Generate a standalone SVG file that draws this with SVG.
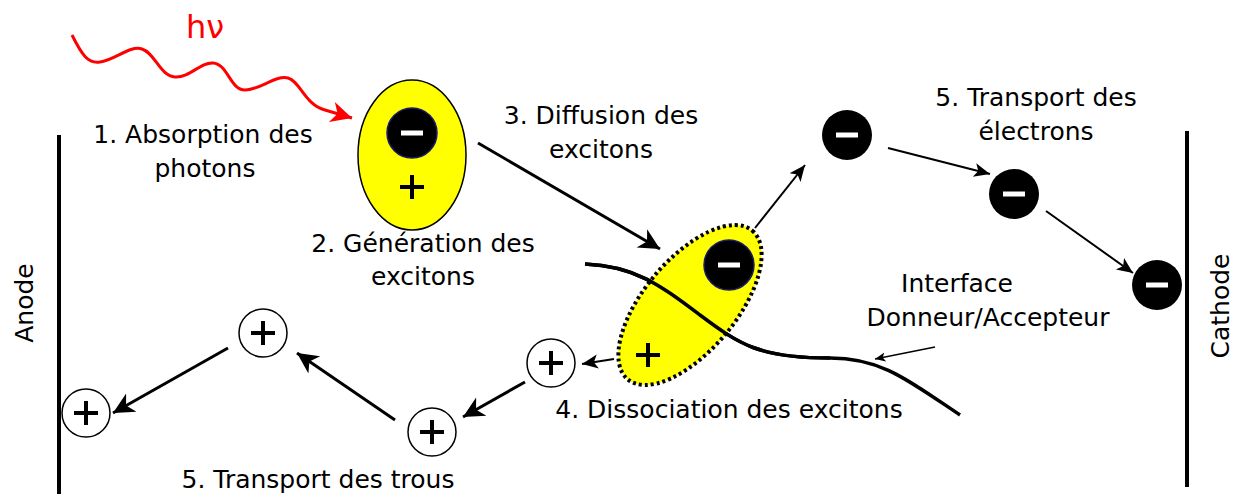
<svg xmlns="http://www.w3.org/2000/svg" width="1235" height="494" viewBox="0 0 1235 494">
<style>
.t{font-family:"Comic Sans MS","DejaVu Sans",sans-serif;font-size:25px;fill:#000;text-anchor:middle}
.e{fill:#000;stroke:#1a1a6e;stroke-width:1.5}
.k{fill:#000}
.h{fill:#fff;stroke:#000;stroke-width:1.5}
.m{stroke:#fff;stroke-width:5;stroke-linecap:butt}
.p{stroke:#000;stroke-width:4}
.c{stroke:#000;stroke-width:3;fill:none;marker-end:url(#ah)}
.cs{stroke:#000;stroke-width:2;fill:none;marker-end:url(#ahs)}
</style>
<defs>
<marker id="ah" markerWidth="8" markerHeight="8" refX="7" refY="4" orient="auto" markerUnits="strokeWidth"><path d="M0,0.5 L7,4 L0,7.5 L2,4 Z" fill="#000"/></marker>
<marker id="ahs" markerWidth="9" markerHeight="9" refX="8" refY="4.5" orient="auto" markerUnits="strokeWidth"><path d="M0,1 L8,4.5 L0,8 L2,4.5 Z" fill="#000"/></marker>
<marker id="ahr" markerWidth="8" markerHeight="8" refX="7" refY="4" orient="auto" markerUnits="strokeWidth"><path d="M0,0.5 L7,4 L0,7.5 L2,4 Z" fill="#f00"/></marker>
</defs>
<rect width="1235" height="494" fill="#fff"/>
<g id="electrodes">
<line x1="59" y1="135" x2="59" y2="494" stroke="#000" stroke-width="4"/>
<line x1="1187" y1="131" x2="1187" y2="487" stroke="#000" stroke-width="4"/>
<text class="t" transform="translate(33,303) rotate(-90)">Anode</text>
<text class="t" transform="translate(1229,306) rotate(-90)">Cathode</text>
</g>
<g id="photon">
<path d="M72,35 C82,55 88,64 100,62 C115,60 130,45 142,49 C155,53 160,76 175,77 C190,78 200,62 213,63 C228,64 230,90 245,90 C260,90 275,75 288,78 C300,81 305,105 325,110 L352,118" fill="none" stroke="#f00" stroke-width="3" marker-end="url(#ahr)"/>
<text x="205" y="38" style="font-family:'DejaVu Sans',sans-serif;font-size:32px;fill:#f00;text-anchor:middle">hν</text>
</g>
<g id="exciton1">
<ellipse cx="412" cy="155" rx="54" ry="75" fill="#ff0" stroke="#000" stroke-width="1.5"/>
<circle class="e" cx="412" cy="133" r="25"/>
<line class="m" x1="401" y1="133" x2="423" y2="133"/>
<line class="p" x1="400" y1="187" x2="424" y2="187"/>
<line class="p" x1="412" y1="175" x2="412" y2="199"/>
</g>
<g id="interface">
<path d="M585,264 C635,266 660,285 700,315 C740,345 760,358 830,358 C880,358 905,378 960,415" fill="none" stroke="#000" stroke-width="3.5"/>
</g>
<g id="exciton2">
<ellipse cx="690" cy="305" rx="97" ry="46" transform="rotate(-50 690 305)" fill="#ff0" stroke="#000" stroke-width="4" stroke-dasharray="3,3"/>
<path d="M585,264 C635,266 660,285 700,315 C740,345 760,358 830,358" fill="none" stroke="#000" stroke-width="3.5"/>
<circle class="e" cx="729" cy="265" r="25"/>
<line class="m" x1="718" y1="265" x2="740" y2="265"/>
<line class="p" x1="636" y1="355" x2="660" y2="355"/>
<line class="p" x1="648" y1="343" x2="648" y2="367"/>
</g>
<g id="electrons">
<circle class="k" cx="847" cy="135" r="25"/>
<line class="m" x1="836" y1="135" x2="858" y2="135"/>
<circle class="k" cx="1014" cy="194" r="25"/>
<line class="m" x1="1003" y1="194" x2="1025" y2="194"/>
<circle class="k" cx="1157" cy="285" r="25"/>
<line class="m" x1="1146" y1="285" x2="1168" y2="285"/>
</g>
<g id="holes">
<circle class="h" cx="263" cy="333" r="24"/>
<line class="p" x1="251" y1="333" x2="275" y2="333"/><line class="p" x1="263" y1="321" x2="263" y2="345"/>
<circle class="h" cx="86" cy="413" r="24"/>
<line class="p" x1="74" y1="413" x2="98" y2="413"/><line class="p" x1="86" y1="401" x2="86" y2="425"/>
<circle class="h" cx="432" cy="432" r="24"/>
<line class="p" x1="420" y1="432" x2="444" y2="432"/><line class="p" x1="432" y1="420" x2="432" y2="444"/>
<circle class="h" cx="551" cy="363" r="24"/>
<line class="p" x1="539" y1="363" x2="563" y2="363"/><line class="p" x1="551" y1="351" x2="551" y2="375"/>
</g>
<g id="connectors">
<line class="c" x1="478" y1="143" x2="660" y2="249"/>
<line class="cs" x1="755" y1="228" x2="805" y2="165"/>
<line class="cs" x1="888" y1="148" x2="990" y2="174"/>
<line class="cs" x1="1046" y1="211" x2="1133" y2="273"/>
<line class="cs" x1="614" y1="359" x2="582" y2="364"/>
<line class="c" x1="525" y1="382" x2="463" y2="417"/>
<line class="c" x1="395" y1="420" x2="297" y2="353"/>
<line class="c" x1="228" y1="348" x2="113" y2="413"/>
<line x1="935" y1="347" x2="875" y2="359" stroke="#000" stroke-width="1.3" marker-end="url(#ahs)"/>
</g>
<g id="labels">
<text class="t" x="203" y="143">1. Absorption des</text>
<text class="t" x="205" y="177">photons</text>
<text class="t" x="423" y="252">2. Génération des</text>
<text class="t" x="423" y="285">excitons</text>
<text class="t" x="601" y="124">3. Diffusion des</text>
<text class="t" x="601" y="158">excitons</text>
<text class="t" x="1036" y="106">5. Transport des</text>
<text class="t" x="1036" y="140">électrons</text>
<text class="t" x="957" y="292">Interface</text>
<text class="t" x="988" y="326">Donneur/Accepteur</text>
<text class="t" x="729" y="418">4. Dissociation des excitons</text>
<text class="t" x="318" y="488">5. Transport des trous</text>
</g>
</svg>
